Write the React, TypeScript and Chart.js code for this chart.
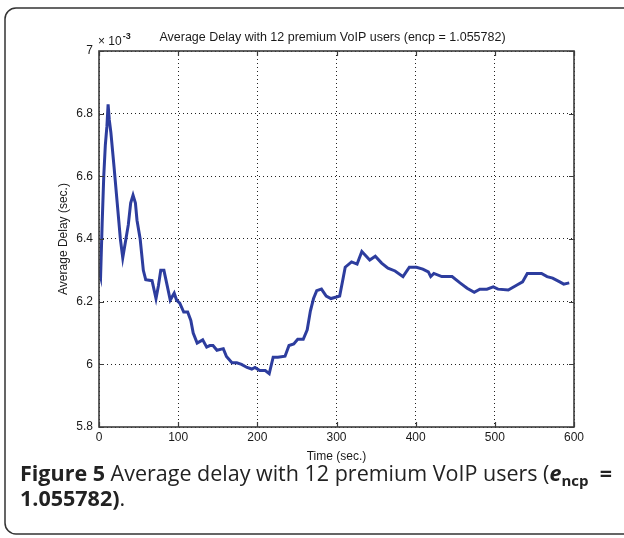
import React, { useEffect, useRef } from "react";
import { Chart, registerables } from "chart.js";

Chart.register(...registerables);

// Time (s) and average delay (x 10^-3 s)
const timeSec = [
  0, 2, 4, 6, 8, 10, 11.5, 13, 15, 19, 23, 27, 30, 34, 37, 40, 43, 46, 48, 52,
  56, 59, 67, 72, 75, 78, 82, 86, 90, 95, 98, 102, 107, 112, 116, 119, 124, 131,
  136, 140, 144, 149, 157, 161, 168, 174, 180, 187, 193, 197, 203, 210, 215, 220,
  226, 235, 240, 246, 251, 258, 263, 267, 271, 275, 281, 287, 293, 300, 304, 308,
  311, 319, 326, 332, 342, 349, 357, 365, 374, 384, 392, 401, 409, 416, 419, 423,
  433, 446, 456, 465, 474, 481, 490, 498, 504, 517, 528, 535, 541, 551, 559, 566,
  573, 582, 587, 594,
];
const avgDelay = [
  6.30, 6.28, 6.45, 6.60, 6.70, 6.76, 6.83, 6.78, 6.74, 6.63, 6.515, 6.40, 6.34,
  6.40, 6.445, 6.515, 6.54, 6.515, 6.46, 6.40, 6.30, 6.27, 6.267, 6.21, 6.25, 6.30,
  6.30, 6.253, 6.205, 6.227, 6.205, 6.195, 6.167, 6.167, 6.14, 6.10, 6.068, 6.078,
  6.055, 6.06, 6.06, 6.045, 6.05, 6.025, 6.005, 6.005, 6.0, 5.99, 5.985, 5.99, 5.98,
  5.98, 5.97, 6.023, 6.023, 6.026, 6.06, 6.065, 6.08, 6.08, 6.11, 6.17, 6.21, 6.235,
  6.24, 6.218, 6.21, 6.215, 6.218, 6.27, 6.31, 6.327, 6.32, 6.36, 6.333, 6.345,
  6.323, 6.307, 6.298, 6.28, 6.31, 6.31, 6.304, 6.295, 6.28, 6.29, 6.28, 6.28, 6.26,
  6.243, 6.23, 6.24, 6.24, 6.247, 6.24, 6.237, 6.253, 6.263, 6.29, 6.29, 6.29, 6.28,
  6.275, 6.263, 6.256, 6.26,
];

const xMin = 0;
const xMax = 600;
const xStep = 100;
const yMin = 5.8;
const yMax = 7;
const yStep = 0.2;

const chartTitle = "Average Delay with 12 premium VoIP users (encp = 1.055782)";
const xTitle = "Time (sec.)";
const yTitle = "Average Delay (sec.)";
const expBase = "\u00d7 10";
const expPower = "-3";
const captionLabel = "Figure 5";
const captionText1 = " Average delay with 12 premium VoIP users (";
const captionVar = "e";
const captionSub = "ncp";
const captionEq = "  =";
const captionText2 = "1.055782)";
const captionEnd = ".";

const AX_FONT = '"Liberation Sans", Arial, sans-serif';
const CAP_FONT = '"Open Sans", "Noto Sans", sans-serif';

const decorPlugin = {
  id: "decor",
  beforeDraw(chart: any) {
    const { ctx, width, height } = chart;
    ctx.save();
    ctx.fillStyle = "#ffffff";
    ctx.fillRect(0, 0, width, height);
    ctx.restore();
  },
  afterDraw(chart: any) {
    const { ctx, chartArea } = chart;
    const { left, right, top, bottom } = chartArea;
    const xs = chart.scales.x;
    const ys = chart.scales.y;
    ctx.save();
    // plot frame
    ctx.strokeStyle = "#3c3c3c";
    ctx.lineWidth = 1.6;
    ctx.strokeRect(left, top, right - left, bottom - top);
    // inward ticks on all four sides
    ctx.lineWidth = 1.2;
    const tl = 5;
    ctx.beginPath();
    xs.ticks.forEach((t: any) => {
      const px = Math.round(xs.getPixelForValue(t.value)) + 0.5;
      ctx.moveTo(px, bottom);
      ctx.lineTo(px, bottom - tl);
      ctx.moveTo(px, top);
      ctx.lineTo(px, top + tl);
    });
    ys.ticks.forEach((t: any) => {
      const py = Math.round(ys.getPixelForValue(t.value)) + 0.5;
      ctx.moveTo(left, py);
      ctx.lineTo(left + tl, py);
      ctx.moveTo(right, py);
      ctx.lineTo(right - tl, py);
    });
    ctx.stroke();

    // chart title
    ctx.fillStyle = "#1a1a1a";
    ctx.font = `12.5px ${AX_FONT}`;
    ctx.textAlign = "center";
    ctx.textBaseline = "middle";
    ctx.fillText(chartTitle, (left + right) / 2 - 4, 38);

    // exponent label
    ctx.textAlign = "left";
    ctx.textBaseline = "alphabetic";
    ctx.font = `12px ${AX_FONT}`;
    ctx.fillText(expBase, left - 1, 45);
    const bw = ctx.measureText(expBase).width;
    ctx.font = `bold 9px ${AX_FONT}`;
    ctx.fillText(expPower, left - 1 + bw + 1, 39);

    // caption
    const runs1 = [
      { t: captionLabel, f: `bold 21.5px ${CAP_FONT}`, dy: 0 },
      { t: captionText1, f: `21.5px ${CAP_FONT}`, dy: 0 },
      { t: captionVar, f: `bold italic 21.5px ${CAP_FONT}`, dy: 0 },
      { t: captionSub, f: `bold 15px ${CAP_FONT}`, dy: 4.5 },
      { t: captionEq, f: `bold 21.5px ${CAP_FONT}`, dy: 0 },
    ];
    ctx.fillStyle = "#222222";
    let x = 20;
    const y1 = 481;
    runs1.forEach((r) => {
      ctx.font = r.f;
      ctx.fillText(r.t, x, y1 + r.dy);
      x += ctx.measureText(r.t).width;
    });
    const runs2 = [
      { t: captionText2, f: `bold 21.5px ${CAP_FONT}`, dy: 0 },
      { t: captionEnd, f: `21.5px ${CAP_FONT}`, dy: 0 },
    ];
    x = 20;
    const y2 = 506;
    runs2.forEach((r) => {
      ctx.font = r.f;
      ctx.fillText(r.t, x, y2 + r.dy);
      x += ctx.measureText(r.t).width;
    });

    // rounded outer frame
    ctx.strokeStyle = "#333333";
    ctx.lineWidth = 1.5;
    ctx.beginPath();
    (ctx as any).roundRect(5, 8, 700, 526, 11);
    ctx.stroke();
    ctx.restore();
  },
};

export default function App() {
  const ref = useRef<HTMLCanvasElement | null>(null);

  useEffect(() => {
    if (!ref.current) return;
    const points = timeSec.map((t, i) => ({ x: t, y: avgDelay[i] }));
    const chart = new Chart(ref.current, {
      type: "line",
      data: {
        datasets: [
          {
            data: points,
            borderColor: "#2d3d9e",
            borderWidth: 3,
            pointRadius: 0,
            tension: 0,
            fill: false,
          },
        ],
      },
      options: {
        responsive: false,
        animation: false,
        devicePixelRatio: 1,
        layout: { padding: { left: 0, right: 50, top: 51, bottom: 0 } },
        plugins: {
          legend: { display: false },
          title: { display: false },
          tooltip: { enabled: false },
        },
        scales: {
          x: {
            type: "linear",
            min: xMin,
            max: xMax,
            ticks: {
              stepSize: xStep,
              font: { size: 12, family: AX_FONT },
              color: "#1a1a1a",
              padding: 3,
              maxRotation: 0,
            },
            grid: { color: "#222", lineWidth: 1, drawTicks: false },
            border: { display: false, dash: [1, 3] },
            title: {
              display: true,
              text: xTitle,
              font: { size: 12, family: AX_FONT },
              color: "#1a1a1a",
              padding: { top: 0, bottom: 74 },
            },
            afterFit: (scale: any) => {
              scale.height = 111;
            },
          },
          y: {
            type: "linear",
            min: yMin,
            max: yMax,
            ticks: {
              stepSize: yStep,
              font: { size: 12, family: AX_FONT },
              color: "#1a1a1a",
              padding: 6,
              callback: (v: any) => String(Number(Number(v).toFixed(1))),
            },
            grid: { color: "#222", lineWidth: 1, drawTicks: false },
            border: { display: false, dash: [1, 3] },
            title: {
              display: true,
              text: yTitle,
              font: { size: 12, family: AX_FONT },
              color: "#1a1a1a",
              padding: { top: 56, bottom: 0 },
            },
            afterFit: (scale: any) => {
              scale.width = 99;
            },
          },
        },
      } as any,
      plugins: [decorPlugin],
    });
    return () => chart.destroy();
  }, []);

  return (
    <div style={{ position: "absolute", left: 0, top: 0, width: 624, height: 538, background: "#fff" }}>
      <canvas ref={ref} width={624} height={538} style={{ display: "block" }} />
    </div>
  );
}
